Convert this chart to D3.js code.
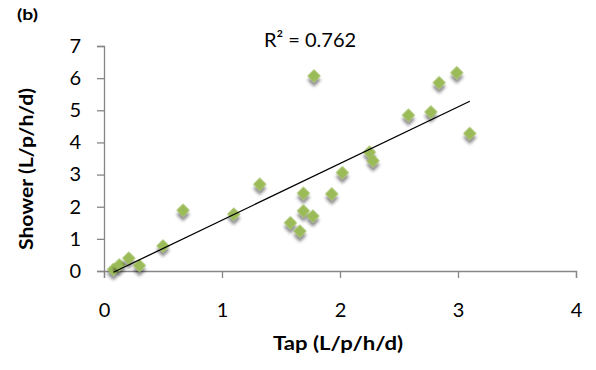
<!DOCTYPE html>
<html>
<head>
<meta charset="utf-8">
<script src="https://cdn.jsdelivr.net/npm/d3@7"></script>
<style>
  html, body { margin: 0; padding: 0; background: #fff; }
  svg { display: block; font-family: Lato, "Open Sans", sans-serif; }
</style>
</head>
<body>
<svg id="chart" width="596" height="370"></svg>
<script>
// ---- Data ----
const tapValues = [0.08, 0.13, 0.21, 0.30, 0.50, 0.67, 1.10, 1.32, 1.78, 1.69, 1.69, 1.77, 1.58, 1.66, 1.93, 2.02, 2.25, 2.28, 2.58, 2.77, 2.84, 2.99, 3.10];
const showerValues = [0.05, 0.19, 0.40, 0.17, 0.78, 1.89, 1.77, 2.70, 6.07, 2.42, 1.87, 1.71, 1.50, 1.24, 2.40, 3.06, 3.70, 3.43, 4.85, 4.95, 5.86, 6.17, 4.28];
const xTicks = [0, 1, 2, 3, 4];
const yTicks = [0, 1, 2, 3, 4, 5, 6, 7];
const r2Label = "R² = 0.762";
const panelLabel = "(b)";
const xTitle = "Tap (L/p/h/d)";
const yTitle = "Shower (L/p/h/d)";

const svg = d3.select("#chart");
const plot = { left: 104, right: 576, top: 46, bottom: 271 };

const x = d3.scaleLinear().domain([0, 4]).range([plot.left, plot.right]);
const y = d3.scaleLinear().domain([0, 7]).range([plot.bottom, plot.top]);

// shadow filter
const defs = svg.append("defs");
const f = defs.append("filter").attr("id", "shadow")
  .attr("x", "-50%").attr("y", "-50%").attr("width", "220%").attr("height", "220%");
f.append("feDropShadow").attr("dx", 3).attr("dy", 3).attr("stdDeviation", 1.8)
  .attr("flood-color", "#000").attr("flood-opacity", 0.45);

const axisColor = "#868686";

// Y axis
const yAxis = svg.append("g").attr("transform", `translate(${plot.left},0)`)
  .call(d3.axisLeft(y).tickValues(yTicks).tickSize(7).tickPadding(16).tickFormat(d3.format("d")));
// X axis
const xAxis = svg.append("g").attr("transform", `translate(0,${plot.bottom})`)
  .call(d3.axisBottom(x).tickValues(xTicks).tickSize(7).tickPadding(25).tickFormat(d3.format("d")));

[xAxis, yAxis].forEach(g => {
  g.select(".domain").attr("stroke", axisColor).attr("stroke-width", 1.3);
  g.selectAll(".tick line").attr("stroke", axisColor).attr("stroke-width", 1.3);
  g.selectAll(".tick text").attr("fill", "#000").style("font-size", "20px")
    .style("font-family", "Lato, 'Open Sans', sans-serif");
});

// points
const data = tapValues.map((t, i) => ({ t, s: showerValues[i] }));
const sym = d3.symbol().type(d3.symbolSquare).size(88);
svg.append("g").selectAll("path").data(data).join("path")
  .attr("d", sym)
  .attr("transform", d => `translate(${x(d.t)},${y(d.s)}) rotate(45)`)
  .attr("fill", "#9bbb59")
  .attr("filter", "url(#shadow)");

// linear trendline (least squares)
const mx = d3.mean(tapValues), my = d3.mean(showerValues);
let sxy = 0, sxx = 0;
tapValues.forEach((t, i) => { sxy += (t - mx) * (showerValues[i] - my); sxx += (t - mx) ** 2; });
const slope = sxy / sxx, intercept = my - slope * mx;
const [x0, x1] = d3.extent(tapValues);
svg.append("line")
  .attr("x1", x(x0)).attr("y1", y(intercept + slope * x0))
  .attr("x2", x(x1)).attr("y2", y(intercept + slope * x1))
  .attr("stroke", "#000").attr("stroke-width", 1.3);

// texts
svg.append("text").attr("x", 310).attr("y", 47).attr("text-anchor", "middle")
  .style("font-size", "20px").text(r2Label);
svg.append("text").attr("x", 17).attr("y", 20)
  .attr("textLength", 21).attr("lengthAdjust", "spacingAndGlyphs")
  .style("font-size", "15px").style("font-weight", "bold").text(panelLabel);
svg.append("text").attr("x", 338).attr("y", 350).attr("text-anchor", "middle")
  .attr("textLength", 130).attr("lengthAdjust", "spacingAndGlyphs")
  .style("font-size", "19px").style("font-weight", "bold").text(xTitle);
svg.append("text").attr("transform", "translate(33,169) rotate(-90)").attr("text-anchor", "middle")
  .attr("textLength", 162).attr("lengthAdjust", "spacingAndGlyphs")
  .style("font-size", "19px").style("font-weight", "bold").text(yTitle);
</script>
</body>
</html>
